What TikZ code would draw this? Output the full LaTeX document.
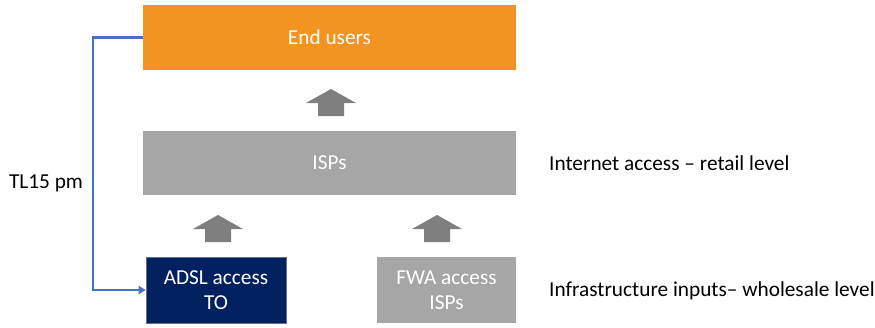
\documentclass[tikz,border=0pt]{standalone}
\usepackage{fontspec}
\setmainfont{Carlito}
\usetikzlibrary{arrows.meta}
\definecolor{eorange}{HTML}{F39322}
\definecolor{egray}{HTML}{A6A6A6}
\definecolor{enavy}{HTML}{002060}
\definecolor{eblue}{HTML}{4472C4}
\definecolor{agray}{HTML}{7F7F7F}
\tikzset{
  box/.style={minimum width=373pt, minimum height=65pt, inner sep=0pt, text=white, font=\fontsize{21.3}{25}\selectfont, align=center},
  small/.style={box, minimum width=140pt, minimum height=66pt},
  lbl/.style={anchor=west, font=\fontsize{21.3}{25}\selectfont, inner sep=0pt},
  link/.style={draw=eblue, line width=2.5pt, -{Triangle[length=7pt,width=8pt]}},
  uparr/.style={fill=agray}
}
\newcommand{\blockup}[2]{\fill[uparr] (#1pt-13pt,#2pt-27pt) -- (#1pt+13pt,#2pt-27pt) -- (#1pt+13pt,#2pt-14pt) -- (#1pt+25pt,#2pt-14pt) -- (#1pt,#2pt) -- (#1pt-25pt,#2pt-14pt) -- (#1pt-13pt,#2pt-14pt) -- cycle;}
\begin{document}
\begin{tikzpicture}[x=1pt,y=1pt]
\useasboundingbox (0,0) rectangle (875,-327);
\node[box, fill=eorange] (eu) at (329.5,-37.5) {End users};
\node[box, fill=egray, minimum height=64pt] (isp) at (329.5,-163) {ISPs};
\node[small, fill=enavy, draw=egray!60!enavy, line width=0.6pt] (adsl) at (216,-290) {ADSL access\\TO};
\node[small, fill=egray, minimum width=139pt] (fwa) at (446.5,-290) {FWA access\\ISPs};
\blockup{331}{-89}
\blockup{218}{-215}
\blockup{437}{-215}
\coordinate (c1) at (93,-37.5);
\draw[link] (eu.west) -- (c1) |- (adsl.west);
\node[lbl, anchor=center] (tl) at (46,-183) {TL15 pm};
\node[lbl] (l1) at (549,-163) {Internet access – retail level};
\node[lbl] (l2) at (549,-291) {Infrastructure inputs– wholesale level};
\end{tikzpicture}
\end{document}
